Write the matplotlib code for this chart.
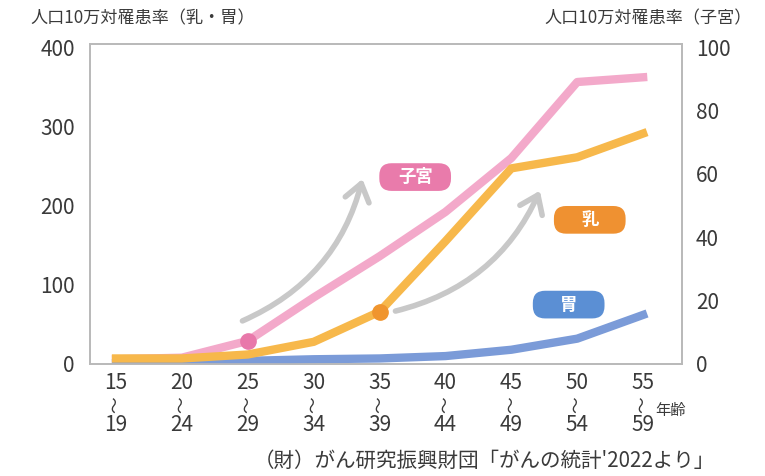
import matplotlib
matplotlib.use("Agg")
import matplotlib.pyplot as plt
from matplotlib.patches import FancyArrowPatch

plt.rcParams["font.family"] = ["Noto Sans CJK JP", "DejaVu Sans"]

# age groups (start / end of each 5-year band)
age_start = ["15", "20", "25", "30", "35", "40", "45", "50", "55"]
age_end = ["19", "24", "29", "34", "39", "44", "49", "54", "59"]

# incidence per 100k (left axis: breast, stomach / right axis: uterus)
breast = [7, 7, 12, 28, 66, 155, 247, 261, 291]
stomach = [1, 2, 4, 6, 7, 10, 18, 32, 62]
uterus = [1.5, 2, 7.3, 21, 34, 48, 65, 89, 90.5]

left_ticks = [0, 100, 200, 300, 400]
right_ticks = [0, 20, 40, 60, 80, 100]

PINK = "#f3a9ca"
PINK_DOT = "#e878aa"
ORANGE = "#f7b84b"
ORANGE_DOT = "#f0952e"
BLUE = "#7b9bd8"
GRAY_TXT = "#3a3a3a"
FRAME = "#b9b9b9"

fig = plt.figure(figsize=(7.65, 4.76), dpi=100)
ax = fig.add_axes([90 / 765, 1 - 364 / 476, 592 / 765, 320 / 476])
ax2 = ax.twinx()
ax.set_zorder(ax2.get_zorder() + 1)
ax.patch.set_visible(False)

x = list(range(len(age_start)))

# uterus on right axis (drawn underneath)
ax2.plot(x, uterus, color=PINK, lw=6, solid_capstyle="projecting", zorder=2)
ax2.plot(x[2], uterus[2], "o", color=PINK_DOT, ms=11, zorder=3)

ax.plot(x, stomach, color=BLUE, lw=6, solid_capstyle="projecting", zorder=2)
ax.plot(x, breast, color=ORANGE, lw=6, solid_capstyle="projecting", zorder=3)
ax.plot(x[4], breast[4], "o", color=ORANGE_DOT, ms=11, zorder=4)

ax.set_xlim(-0.395, 8.59)
ax.set_ylim(0, 404)
ax2.set_ylim(0, 101)

ax.set_yticks(left_ticks)
ax.set_yticklabels([str(v) for v in left_ticks])
ax2.set_yticks(right_ticks)
ax2.set_yticklabels([str(v) for v in right_ticks])
ax.tick_params(axis="y", length=0, pad=11, labelsize=15, labelcolor=GRAY_TXT)
ax2.tick_params(axis="y", length=0, pad=10, labelsize=15, labelcolor=GRAY_TXT)
ax.set_xticks([])
ax2.set_xticks([])

for a in (ax, ax2):
    for s in a.spines.values():
        s.set_color(FRAME)
        s.set_linewidth(1.2)

# age labels: start, wave dash, end
tr = ax.get_xaxis_transform()
for i, (s, e) in enumerate(zip(age_start, age_end)):
    ax.text(i, -0.058, s, transform=tr, ha="center", va="center",
            fontsize=15, color=GRAY_TXT)
    ax.text(i, -0.128, "〜", transform=tr, ha="center", va="center",
            fontsize=12, rotation=90, color=GRAY_TXT)
    ax.text(i, -0.19, e, transform=tr, ha="center", va="center",
            fontsize=15, color=GRAY_TXT)

# badges
def badge(xc, yc, label, color):
    ax.text(xc, yc, "\u3000" * 4, ha="center", va="center", fontsize=11,
            bbox=dict(boxstyle="round,pad=0.35,rounding_size=0.8",
                      fc=color, ec="none"), zorder=6)
    ax.text(xc, yc, label, ha="center", va="center", fontsize=12.5,
            color="white", fontweight="bold", zorder=7)

badge(4.54, 236, "子宮", "#e97bab")
badge(7.19, 182, "乳", "#ef9131")
badge(6.87, 75, "胃", "#5b8fd4")

# gray curved arrows
for start, end in [((1.88, 53), (3.75, 237)), ((4.2, 66), (6.45, 222))]:
    arr = FancyArrowPatch(start, end, connectionstyle="arc3,rad=0.25",
                          arrowstyle="->,head_length=0.55,head_width=0.4",
                          mutation_scale=22, lw=4, color="#c8c8c8",
                          zorder=5)
    ax.add_patch(arr)

fig.text(30 / 765, 1 - 18 / 476, "人口10万対罹患率（乳・胃）", ha="left",
         va="center", fontsize=12.3, color=GRAY_TXT)
fig.text(752 / 765, 1 - 18 / 476, "人口10万対罹患率（子宮）", ha="right",
         va="center", fontsize=12.3, color=GRAY_TXT)
fig.text(671 / 765, 1 - 410 / 476, "年齢", ha="center", va="center",
         fontsize=11, color=GRAY_TXT)
fig.text(715 / 765, 1 - 461 / 476, "（財）がん研究振興財団「がんの統計'2022より」",
         ha="right", va="center", fontsize=14.8, color=GRAY_TXT)

fig.savefig("out.png", dpi=100)
